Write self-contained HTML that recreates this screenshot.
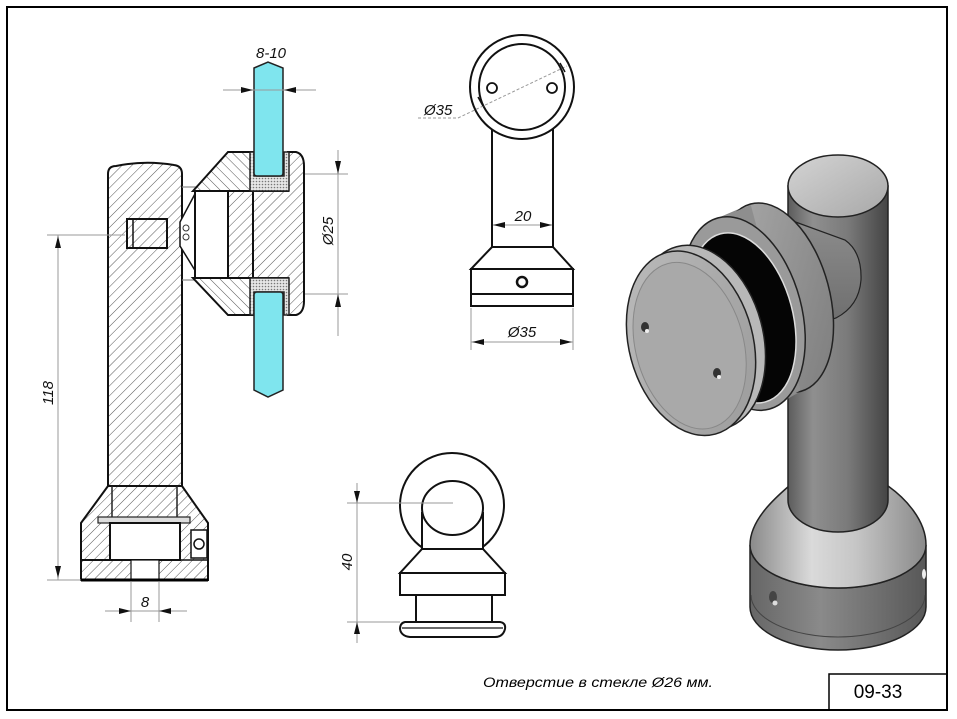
<!DOCTYPE html>
<html><head><meta charset="utf-8"><style>
html,body{margin:0;padding:0;background:#fff;}
svg{display:block;}
text{font-family:"Liberation Sans",sans-serif;}
</style></head><body>
<svg width="957" height="719" viewBox="0 0 957 719" xmlns="http://www.w3.org/2000/svg">
<defs>
<pattern id="h1" width="7" height="7" patternUnits="userSpaceOnUse" patternTransform="rotate(45)"><rect width="7" height="7" fill="#fff"/><line x1="0" y1="0" x2="0" y2="7" stroke="#555" stroke-width="1"/></pattern>
<pattern id="h2" width="7" height="7" patternUnits="userSpaceOnUse" patternTransform="rotate(-45)"><rect width="7" height="7" fill="#fff"/><line x1="0" y1="0" x2="0" y2="7" stroke="#555" stroke-width="1"/></pattern>
<pattern id="dots" width="3" height="3" patternUnits="userSpaceOnUse"><rect width="3" height="3" fill="#e6e6e6"/><circle cx="1.5" cy="1.5" r="0.8" fill="#777"/></pattern>
<linearGradient id="gPost" x1="0" x2="1" y1="0" y2="0"><stop offset="0" stop-color="#5c5c5c"/><stop offset="0.25" stop-color="#8f8f8f"/><stop offset="0.6" stop-color="#7a7a7a"/><stop offset="1" stop-color="#444"/></linearGradient>
<linearGradient id="gTop" x1="0" x2="1" y1="0" y2="1"><stop offset="0" stop-color="#d4d4d4"/><stop offset="1" stop-color="#a8a8a8"/></linearGradient>
<linearGradient id="gCone" x1="0" x2="1" y1="0" y2="0"><stop offset="0" stop-color="#8a8a8a"/><stop offset="0.35" stop-color="#dadada"/><stop offset="0.6" stop-color="#c6c6c6"/><stop offset="1" stop-color="#8a8a8a"/></linearGradient>
<linearGradient id="gCyl" x1="0" x2="1" y1="0" y2="0"><stop offset="0" stop-color="#666"/><stop offset="0.4" stop-color="#8a8a8a"/><stop offset="1" stop-color="#585858"/></linearGradient>
<linearGradient id="gArm" x1="0" x2="0" y1="0" y2="1"><stop offset="0" stop-color="#8c8c8c"/><stop offset="1" stop-color="#6c6c6c"/></linearGradient>
<linearGradient id="gRing" x1="0" x2="1" y1="0" y2="1"><stop offset="0" stop-color="#b0b0b0"/><stop offset="1" stop-color="#7a7a7a"/></linearGradient>
<linearGradient id="gCap" x1="0" x2="1" y1="0" y2="1"><stop offset="0" stop-color="#bcbcbc"/><stop offset="1" stop-color="#9a9a9a"/></linearGradient>
</defs>

<!-- frame -->
<rect x="7" y="7" width="940" height="703" fill="none" stroke="#000" stroke-width="2"/>
<rect x="829" y="674" width="118" height="36" fill="none" stroke="#000" stroke-width="1.5"/>
<text x="878" y="698" font-size="19" text-anchor="middle" fill="#000">09-33</text>
<text x="483" y="687" font-size="14" font-style="italic" fill="#000" textLength="230" lengthAdjust="spacingAndGlyphs">Отверстие в стекле Ø26 мм.</text>

<!-- ===== LEFT SECTION VIEW ===== -->
<path d="M108,486 L108,174 Q108,166 116,166 Q145,160 174,165 Q182,166 182,174 L182,486 Z" fill="url(#h1)" stroke="#111" stroke-width="2"/>
<path d="M108,486 L182,486 L208,523 L208,580 L81,580 L81,523 Z" fill="url(#h1)" stroke="#111" stroke-width="2"/>
<line x1="112" y1="486" x2="112" y2="517" stroke="#222" stroke-width="1.5"/>
<line x1="177" y1="486" x2="177" y2="517" stroke="#222" stroke-width="1.5"/>
<rect x="98" y="517" width="92" height="6" fill="#ddd" stroke="#222" stroke-width="1.2"/>
<rect x="110" y="523" width="70" height="37" fill="#fff" stroke="#111" stroke-width="2"/>
<line x1="81" y1="560" x2="110" y2="560" stroke="#111" stroke-width="2"/>
<line x1="180" y1="560" x2="208" y2="560" stroke="#111" stroke-width="1.5"/>
<rect x="131" y="560" width="28" height="20" fill="#fff" stroke="#111" stroke-width="1.2"/>
<rect x="191" y="530" width="16" height="28" fill="#fff" stroke="#111" stroke-width="1.5"/>
<circle cx="199" cy="544" r="5" fill="#fff" stroke="#111" stroke-width="1.5"/>
<line x1="81" y1="580" x2="208" y2="580" stroke="#000" stroke-width="3"/>
<rect x="127" y="219" width="40" height="29" fill="url(#h1)" stroke="#111" stroke-width="2"/>
<line x1="133" y1="219" x2="133" y2="248" stroke="#111" stroke-width="1.5"/>
<line x1="182" y1="187" x2="196" y2="187" stroke="#888" stroke-width="1.2"/>
<line x1="182" y1="280" x2="196" y2="280" stroke="#888" stroke-width="1.2"/>
<polygon points="196,192 180,222 180,246 196,272" fill="#fff" stroke="#111" stroke-width="1.5"/>
<circle cx="186" cy="228" r="3" fill="#fff" stroke="#333" stroke-width="1"/>
<circle cx="186" cy="237" r="3" fill="#fff" stroke="#333" stroke-width="1"/>
<polygon points="193,191 228,152 253,152 253,191" fill="url(#h2)" stroke="#111" stroke-width="2"/>
<polygon points="193,278 253,278 253,315 228,315" fill="url(#h2)" stroke="#111" stroke-width="2"/>
<rect x="195" y="191" width="33" height="87" fill="#fff" stroke="#111" stroke-width="2"/>
<rect x="228" y="191" width="25" height="87" fill="url(#h1)" stroke="#111" stroke-width="2"/>
<path d="M253,191 L288,191 L288,152 L296,152 Q304,154 304,166 L304,301 Q304,313 296,315 L288,315 L288,278 L253,278 Z" fill="url(#h1)" stroke="#111" stroke-width="2"/>
<path d="M250,152 L254,152 L254,176 L284,176 L284,152 L289,152 L289,191 L250,191 Z" fill="url(#dots)" stroke="#222" stroke-width="1.5"/>
<path d="M250,278 L289,278 L289,315 L284,315 L284,292 L254,292 L254,315 L250,315 Z" fill="url(#dots)" stroke="#222" stroke-width="1.5"/>
<path d="M254,68 L268,62 L283,68 L283,173 Q283,176 280,176 L257,176 Q254,176 254,173 Z" fill="#7fe5ee" stroke="#222" stroke-width="1.5"/>
<path d="M254,295 Q254,292 257,292 L280,292 Q283,292 283,295 L283,390 L268,397 L254,390 Z" fill="#7fe5ee" stroke="#222" stroke-width="1.5"/>

<g stroke="#999" stroke-width="1" fill="none">
<line x1="223" y1="90" x2="316" y2="90"/>
<line x1="305" y1="174" x2="348" y2="174"/>
<line x1="305" y1="294" x2="348" y2="294"/>
<line x1="338" y1="150" x2="338" y2="336"/>
<line x1="58" y1="235" x2="58" y2="580"/>
<line x1="47" y1="235" x2="125" y2="235"/>
<line x1="47" y1="580" x2="81" y2="580"/>
<line x1="131" y1="582" x2="131" y2="622"/>
<line x1="159" y1="582" x2="159" y2="622"/>
<line x1="105" y1="611" x2="187" y2="611"/>
</g>
<g fill="#111">
<polygon points="253,90 241,87 241,93"/>
<polygon points="284,90 296,87 296,93"/>
<polygon points="338,174 335,161 341,161"/>
<polygon points="338,294 335,307 341,307"/>
<polygon points="58,236 55,248 61,248"/>
<polygon points="58,578 55,566 61,566"/>
<polygon points="131,611 119,608 119,614"/>
<polygon points="159,611 171,608 171,614"/>
</g>
<g font-size="15" font-style="italic" fill="#111">
<text x="271" y="58" text-anchor="middle">8-10</text>
<text x="145" y="607" text-anchor="middle">8</text>
<text transform="translate(333,231) rotate(-90)" text-anchor="middle">Ø25</text>
<text transform="translate(53,393) rotate(-90)" text-anchor="middle">118</text>
</g>

<!-- ===== TOP-MIDDLE VIEW ===== -->
<g stroke="#111" stroke-width="2" fill="#fff">
<line x1="492" y1="129" x2="492" y2="247"/>
<line x1="553" y1="129" x2="553" y2="247"/>
<circle cx="522" cy="87" r="52"/>
<circle cx="522" cy="87" r="43"/>
<circle cx="492" cy="88" r="5" stroke-width="1.8"/>
<circle cx="552" cy="88" r="5" stroke-width="1.8"/>
<polygon points="492,247 553,247 573,269 471,269"/>
<rect x="471" y="269" width="102" height="37"/>
<line x1="471" y1="294" x2="573" y2="294"/>
<circle cx="522" cy="282" r="5" stroke-width="2.5"/>
</g>
<polyline points="418,118 458,118 567,66" fill="none" stroke="#999" stroke-width="1" stroke-dasharray="3,2"/>
<line x1="478" y1="97" x2="483" y2="106" stroke="#111" stroke-width="1.5"/>
<line x1="560" y1="63" x2="565" y2="72" stroke="#111" stroke-width="1.5"/>
<g stroke="#999" stroke-width="1">
<line x1="493" y1="225" x2="552" y2="225"/>
<line x1="471" y1="308" x2="471" y2="350"/>
<line x1="573" y1="308" x2="573" y2="350"/>
<line x1="471" y1="342" x2="573" y2="342"/>
</g>
<g fill="#111">
<polygon points="493,225 505,222 505,228"/>
<polygon points="552,225 540,222 540,228"/>
<polygon points="472,342 484,339 484,345"/>
<polygon points="572,342 560,339 560,345"/>
</g>
<g font-size="15" font-style="italic" fill="#111">
<text x="424" y="115">Ø35</text>
<text x="523" y="221" text-anchor="middle">20</text>
<text x="522" y="337" text-anchor="middle">Ø35</text>
</g>

<!-- ===== BOTTOM-MIDDLE VIEW ===== -->
<g stroke="#111" stroke-width="2" fill="#fff">
<circle cx="452" cy="505" r="52"/>
<rect x="422" y="512" width="61" height="37" stroke="none"/>
<line x1="422" y1="512" x2="422" y2="549"/>
<line x1="483" y1="512" x2="483" y2="549"/>
<ellipse cx="452.5" cy="508" rx="30.5" ry="27"/>
<polygon points="422,549 483,549 505,573 400,573"/>
<rect x="400" y="573" width="105" height="22"/>
<rect x="416" y="595" width="76" height="27"/>
<path d="M405,622 L500,622 Q506,623 505,629 Q503,637 495,637 L410,637 Q401,636 400,629 Q400,623 405,622 Z"/>
<line x1="402" y1="628" x2="503" y2="628" stroke-width="1.2"/>
</g>
<g stroke="#999" stroke-width="1">
<line x1="357" y1="483" x2="357" y2="643"/>
<line x1="347" y1="503" x2="453" y2="503"/>
<line x1="347" y1="622" x2="400" y2="622"/>
</g>
<g fill="#111">
<polygon points="357,503 354,491 360,491"/>
<polygon points="357,622 354,634 360,634"/>
</g>
<text transform="translate(352,562) rotate(-90)" text-anchor="middle" font-size="15" font-style="italic" fill="#111">40</text>

<!-- ===== 3D RENDER ===== -->
<path d="M750,545 A88,43 0 0 0 926,545 L926,607 A88,43 0 0 1 750,607 Z" fill="url(#gCyl)" stroke="#222" stroke-width="1.5"/>
<path d="M751,595 A87,42 0 0 0 925,595" fill="none" stroke="#444" stroke-width="1"/>
<path d="M750,545 C750,520 775,498 789,486 L888,486 C905,498 926,520 926,545 A88,43 0 0 1 750,545 Z" fill="url(#gCone)" stroke="#222" stroke-width="1.5"/>
<ellipse cx="773" cy="597" rx="4" ry="6" fill="#444"/>
<circle cx="775" cy="603" r="2.5" fill="#ddd"/>
<ellipse cx="924" cy="574" rx="2" ry="5" fill="#eee"/>
<path d="M788,186 L788,500 A50,32 0 0 0 888,500 L888,186 Z" fill="url(#gPost)" stroke="#222" stroke-width="1.5"/>
<ellipse cx="838" cy="186" rx="50" ry="31" fill="url(#gTop)" stroke="#222" stroke-width="1.5"/>
<path d="M790,220 L845,240 Q862,252 861,280 Q859,306 836,318 L800,330 Z" fill="url(#gArm)" stroke="#222" stroke-width="1.2"/>
<!-- clamp ring -->
<g transform="rotate(-15 760 305)">
<polygon points="742,210 777,205 777,399 742,408" fill="#8a8a8a"/>
<ellipse cx="777" cy="302" rx="54" ry="97" fill="url(#gRing)" stroke="#222" stroke-width="1.5"/>
<polygon points="742,211 777,206 777,398 742,407" fill="#8e8e8e"/>
<ellipse cx="742" cy="309" rx="58" ry="99" fill="#9a9a9a" stroke="#222" stroke-width="1.5"/>
<ellipse cx="740" cy="313" rx="50" ry="87" fill="#050505" stroke="#ddd" stroke-width="1.5"/>
</g>
<!-- front cap -->
<g transform="rotate(-15 692 343)">
<ellipse cx="702" cy="340" rx="62" ry="94" fill="#b8b8b8" stroke="#222" stroke-width="1.5"/>
<ellipse cx="691" cy="343" rx="62" ry="94" fill="url(#gCap)" stroke="#222" stroke-width="1.5"/>
<ellipse cx="689" cy="345" rx="54" ry="85" fill="#a9a9a9" stroke="#888" stroke-width="1"/>
</g>
<ellipse cx="645" cy="327" rx="4" ry="5" fill="#333"/>
<circle cx="647" cy="331" r="2" fill="#eee"/>
<ellipse cx="717" cy="373" rx="4" ry="5" fill="#333"/>
<circle cx="719" cy="377" r="2" fill="#eee"/>
</svg>
</body></html>
